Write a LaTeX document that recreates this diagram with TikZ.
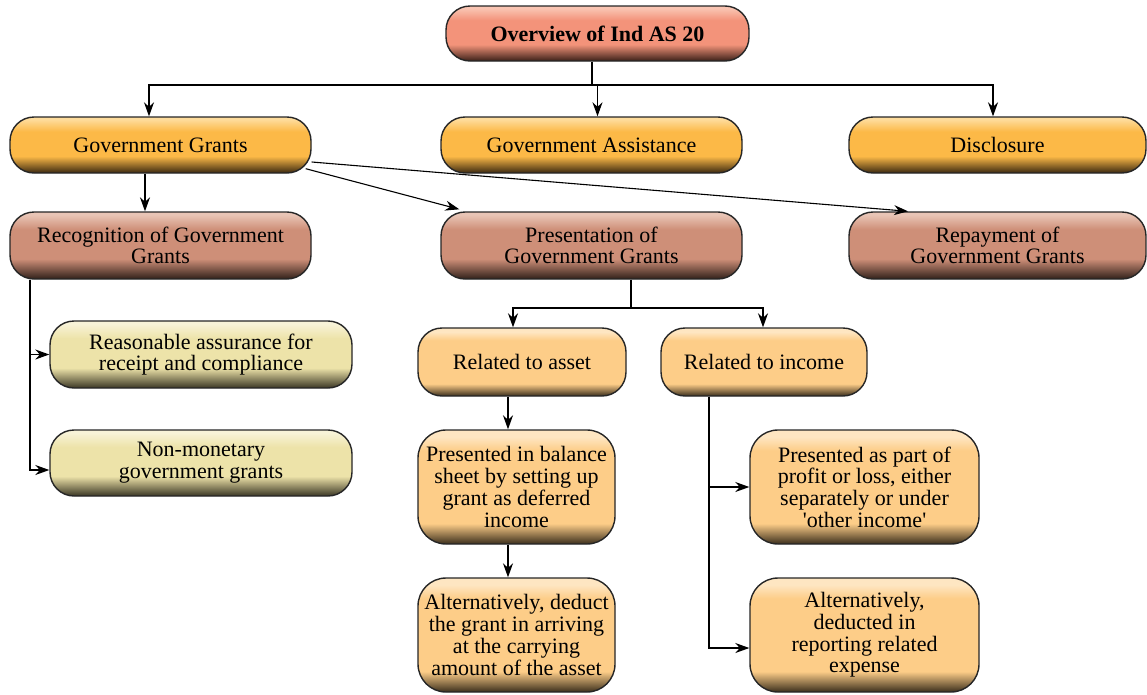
\documentclass[tikz,border=0pt]{standalone}
\usepackage{fontspec}
\setmainfont{Liberation Serif}[Ligatures=TeXOff]
\usetikzlibrary{arrows.meta}
\definecolor{salB}{HTML}{F3937A}\definecolor{salL}{HTML}{F9C4B2}\definecolor{salD}{HTML}{3A2018}
\definecolor{orB}{HTML}{FCB947}\definecolor{orL}{HTML}{FEDC9C}\definecolor{orD}{HTML}{3A2810}
\definecolor{brB}{HTML}{CE8F78}\definecolor{brL}{HTML}{E9C5B6}\definecolor{brD}{HTML}{30201A}
\definecolor{ylB}{HTML}{EDE3A9}\definecolor{ylL}{HTML}{F8F3D8}\definecolor{ylD}{HTML}{3A3624}
\definecolor{loB}{HTML}{FDCD88}\definecolor{loL}{HTML}{FEE6C2}\definecolor{loD}{HTML}{3A2E1C}
\pgfdeclareverticalshading{shsal}{100bp}{color(0bp)=(salD); color(25bp)=(salD); color(40bp)=(salB); color(62bp)=(salB); color(73bp)=(salL); color(100bp)=(salL)}
\pgfdeclareverticalshading{shor}{100bp}{color(0bp)=(orD); color(25bp)=(orD); color(40bp)=(orB); color(62bp)=(orB); color(73bp)=(orL); color(100bp)=(orL)}
\pgfdeclareverticalshading{shbr}{100bp}{color(0bp)=(brD); color(25bp)=(brD); color(40bp)=(brB); color(62bp)=(brB); color(73bp)=(brL); color(100bp)=(brL)}
\pgfdeclareverticalshading{shyl}{100bp}{color(0bp)=(ylD); color(25bp)=(ylD); color(40bp)=(ylB); color(62bp)=(ylB); color(73bp)=(ylL); color(100bp)=(ylL)}
\pgfdeclareverticalshading{shlo}{100bp}{color(0bp)=(loD); color(25bp)=(loD); color(34bp)=(loB); color(66bp)=(loB); color(72bp)=(loL); color(100bp)=(loL)}
\tikzset{
  box/.style={draw=black!85, line width=1.4pt, rounded corners=24pt, inner sep=0pt, align=center,
    font=\fontsize{22}{21.7}\selectfont, shade},
  topbox/.style={box, shading=shsal, font=\fontsize{22}{21.7}\selectfont\bfseries},
  orbox/.style={box, shading=shor},
  brbox/.style={box, shading=shbr},
  ylbox/.style={box, shading=shyl},
  lobox/.style={box, shading=shlo},
  line/.style={line width=1.1pt},
  arr/.style={line width=1.1pt, -{Stealth[length=14pt,width=10pt]}}
}
\begin{document}
\begin{tikzpicture}[x=1pt,y=-1pt]
\useasboundingbox (0,0) rectangle (1147,694);
% nodes
\node[topbox, minimum width=303pt, minimum height=55pt] (top) at (597.5,33.5) {Overview of Ind AS 20};
\node[orbox, minimum width=301pt, minimum height=56pt] (gg) at (160.5,145) {Government Grants};
\node[orbox, minimum width=301pt, minimum height=56pt] (ga) at (591.5,145) {Government Assistance};
\node[orbox, minimum width=297pt, minimum height=56pt] (dis) at (997.5,145) {Disclosure};
\node[brbox, minimum width=301pt, minimum height=67pt] (rec) at (160.5,245.5) {Recognition of Government\\Grants};
\node[brbox, minimum width=301pt, minimum height=67pt] (pres) at (591.5,245.5) {Presentation of\\Government Grants};
\node[brbox, minimum width=297pt, minimum height=67pt] (rep) at (997.5,245.5) {Repayment of\\Government Grants};
\node[ylbox, minimum width=302pt, minimum height=67pt] (ra) at (201,354.5) {Reasonable assurance for\\receipt and compliance};
\node[ylbox, minimum width=302pt, minimum height=66pt] (nm) at (201,463) {Non-monetary\\government grants};
\node[lobox, minimum width=208pt, minimum height=68pt] (asset) at (522,362) {Related to asset};
\node[lobox, minimum width=206pt, minimum height=68pt] (inc) at (764,362) {Related to income};
\node[lobox, minimum width=197pt, minimum height=114pt, rounded corners=28pt] (bal) at (516.5,487) {Presented in balance\\sheet by setting up\\grant as deferred\\income};
\node[lobox, minimum width=197pt, minimum height=114pt, rounded corners=28pt] (alt) at (516.5,635) {Alternatively, deduct\\the grant in arriving\\at the carrying\\amount of the asset};
\node[lobox, minimum width=229pt, minimum height=114pt, rounded corners=28pt] (pp) at (864.5,487) {Presented as part of\\profit or loss, either\\separately or under\\'other income'};
\node[lobox, minimum width=229pt, minimum height=114pt, rounded corners=28pt] (ad) at (864.5,635) {Alternatively,\\deducted in\\reporting related\\expense};
% helper coordinates
\coordinate (j1) at (592,85);
\coordinate (pj) at (631,308);
\coordinate (ij) at (709,0);
\coordinate (aj) at (508,0);
\coordinate (rj) at (30,0);
% connectors
\draw[line, line width=1.8pt] (top.south -| j1) -- (j1);
\draw[arr] (j1) -| ([xshift=-11.5pt]gg.north);
\draw[arr] (j1) -| ([xshift=6pt]ga.north);
\draw[arr] (j1) -| ([xshift=-4.5pt]dis.north);
\draw[arr] ([xshift=-15.5pt]gg.south) -- ([xshift=-15.5pt]rec.north);
\draw[arr] ([xshift=-6pt,yshift=5pt]gg.south east) -- ([xshift=19pt,yshift=2pt]pres.north west);
\draw[arr] ([yshift=-17pt]gg.east) -- ([xshift=-89.5pt]rep.north);
\draw[arr] (rec.south -| rj) |- (ra.west);
\draw[arr] (rec.south -| rj) |- ([yshift=-7pt]nm.west);
\draw[line, line width=1.8pt] (pres.south -| pj) -- (pj);
\draw[arr] (pj) -| ([xshift=-9pt]asset.north);
\draw[arr] (pj) -| ([xshift=-1pt]inc.north);
\draw[arr] (asset.south -| aj) -- (bal.north -| aj);
\draw[arr] (bal.south -| aj) -- (alt.north -| aj);
\draw[arr] (inc.south -| ij) |- (pp.west);
\draw[arr] (inc.south -| ij) |- ([yshift=-13pt]ad.west);
\end{tikzpicture}
\end{document}
